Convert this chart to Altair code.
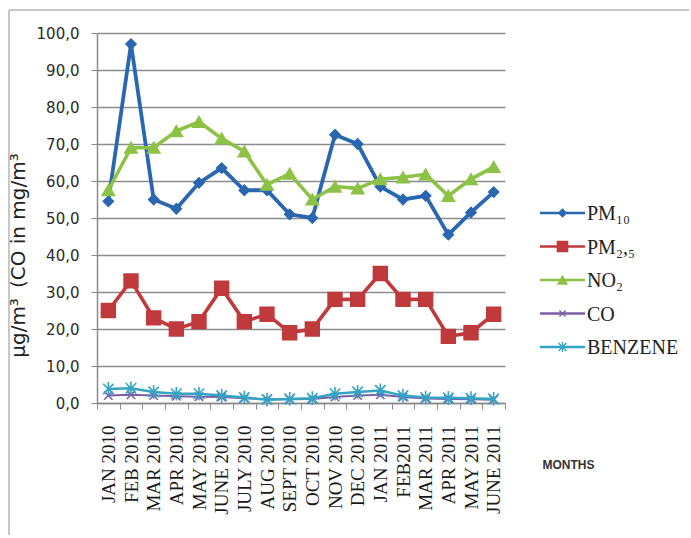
import altair as alt
import pandas as pd

# Monthly pollutant concentrations, Jan 2010 - June 2011
months = ["JAN 2010", "FEB 2010", "MAR 2010", "APR 2010", "MAY 2010", "JUNE 2010",
          "JULY 2010", "AUG 2010", "SEPT 2010", "OCT 2010", "NOV 2010", "DEC 2010",
          "JAN 2011", "FEB2011", "MAR 2011", "APR 2011", "MAY 2011", "JUNE 2011"]

pm10 = [54.5, 97.0, 55.0, 52.5, 59.5, 63.5, 57.5, 57.5, 51.0, 50.0, 72.5, 70.0,
        58.5, 55.0, 56.0, 45.5, 51.5, 57.0]
pm25 = [25.0, 33.0, 23.0, 20.0, 22.0, 31.0, 22.0, 24.0, 19.0, 20.0, 28.0, 28.0,
        35.0, 28.0, 28.0, 18.0, 19.0, 24.0]
no2 = [57.5, 69.0, 69.0, 73.5, 76.0, 71.5, 68.0, 59.0, 62.0, 55.0, 58.5, 58.0,
       60.5, 61.0, 61.8, 56.0, 60.5, 63.8]
co = [2.0, 2.2, 2.0, 1.8, 1.7, 1.6, 1.3, 1.0, 1.0, 1.1, 1.6, 2.0,
      2.2, 1.6, 1.2, 1.1, 1.0, 0.9]
benzene = [3.8, 4.0, 3.0, 2.5, 2.5, 2.0, 1.5, 0.9, 1.1, 1.3, 2.5, 3.0,
           3.4, 2.0, 1.5, 1.4, 1.3, 1.1]

series_keys = ["PM10", "PM2.5", "NO2", "CO", "BENZENE"]
series_labels = ["PM\u2081\u2080", "PM\u2082,\u2085", "NO\u2082", "CO", "BENZENE"]
series_values = [pm10, pm25, no2, co, benzene]
series_colors = ["#2a67b1", "#c0393b", "#8cc346", "#7b5fa6", "#33a5c4"]

# marker shapes: diamond, square, triangle, x-cross, asterisk
X_PATH = "M-1,-1L1,1M-1,1L1,-1"
STAR_PATH = "M-1,-1L1,1M-1,1L1,-1M0,-1.3L0,1.3"
series_shapes = ["diamond", "square", "triangle-up", X_PATH, STAR_PATH]
series_sizes = [100, 190, 150, 70, 110]
series_widths = [3.8, 3.6, 3.6, 2.0, 2.5]

rows = []
for key, vals in zip(series_keys, series_values):
    for m, v in zip(months, vals):
        rows.append({"month": m, "series": key, "value": v})
df = pd.DataFrame(rows)

x_enc = alt.X(
    "month:N",
    sort=months,
    bandPosition=0.5,
    scale=alt.Scale(type="band", paddingInner=0, paddingOuter=0),
    axis=alt.Axis(
        title="MONTHS",
        titleFont="Liberation Sans",
        titleFontSize=12,
        titleFontWeight="bold",
        titleColor="#333333",
        titleX=471,
        titleY=56,
        titleAngle=0,
        labelAngle=-90,
        labelAlign="right",
        labelBaseline="middle",
        labelFont="Liberation Serif",
        labelFontSize=19,
        labelColor="#1a1a1a",
        labelPadding=16,
        tickBand="extent",
        ticks=True,
        tickSize=6,
        tickColor="#8a8a8a",
        domainColor="#8a8a8a",
        domainWidth=1.5,
        grid=False,
    ),
)

y_enc = alt.Y(
    "value:Q",
    scale=alt.Scale(domain=[0, 100], nice=False),
    axis=alt.Axis(
        values=list(range(0, 101, 10)),
        labelExpr="replace(format(datum.value, '.1f'), '.', ',')",
        labelFont="DejaVu Sans",
        labelFontSize=15,
        labelColor="#2a2a2a",
        labelPadding=12,
        tickSize=6,
        tickColor="#8a8a8a",
        domainColor="#8a8a8a",
        domainWidth=1.5,
        grid=True,
        gridColor="#8c8c8c",
        gridWidth=1.5,
        title="\u00b5g/m\u00b3\u2002(CO in mg/m\u00b3",
        titleFont="DejaVu Sans",
        titleFontSize=20,
        titleFontWeight="normal",
        titleColor="#222222",
        titleX=-69,
        titleY=222,
    ),
)

layers = []
for key, col, shp, sz, sw in zip(series_keys, series_colors, series_shapes,
                                 series_sizes, series_widths):
    sub = df[df["series"] == key]
    base = alt.Chart(sub)
    line = base.mark_line(color=col, strokeWidth=sw).encode(x=x_enc, y=y_enc)
    pts = base.mark_point(
        shape=shp, size=sz, filled=True, fill=col, stroke=col,
        strokeWidth=1.6, opacity=1,
    ).encode(x=x_enc, y=y_enc)
    layers += [line, pts]

# thin picture frame along the top and left edges
frame_top = alt.Chart(pd.DataFrame({"k": [0]})).mark_rule(
    color="#b5b5b5", strokeWidth=1.5
).encode(x=alt.value(-88), x2=alt.value(592), y=alt.value(-23))
frame_left = alt.Chart(pd.DataFrame({"k": [0]})).mark_rule(
    color="#b5b5b5", strokeWidth=1.5
).encode(x=alt.value(-88), y=alt.value(-23), y2=alt.value(502))

main = alt.layer(frame_top, frame_left, *layers).properties(width=408, height=370)

# legend panel: sample line, marker and label per series
leg = pd.DataFrame({
    "series": series_keys,
    "label": series_labels,
    "x0": [0.0] * 5,
    "x1": [1.0] * 5,
    "xm": [0.5] * 5,
})
lx = alt.Scale(domain=[0, 1], range=[5, 50])
ly = alt.Scale(type="point", domain=series_keys, range=[180, 314], padding=0)
col_scale = alt.Scale(domain=series_keys, range=series_colors)

leg_base = alt.Chart(leg)
leg_line = leg_base.mark_rule(strokeWidth=2.5).encode(
    x=alt.X("x0:Q", scale=lx, axis=None),
    x2="x1:Q",
    y=alt.Y("series:N", scale=ly, axis=None),
    color=alt.Color("series:N", scale=col_scale, legend=None),
)
leg_pts = []
for key, col, shp, sz in zip(series_keys, series_colors, series_shapes, series_sizes):
    leg_pts.append(
        alt.Chart(leg[leg["series"] == key]).mark_point(
            shape=shp, size=sz * 0.55, filled=True, fill=col, stroke=col,
            strokeWidth=1.4, opacity=1,
        ).encode(
            x=alt.X("xm:Q", scale=lx, axis=None),
            y=alt.Y("series:N", scale=ly, axis=None),
        )
    )
leg_text = leg_base.mark_text(
    align="left", baseline="middle", dx=2, dy=1,
    font="Liberation Serif", fontSize=20, color="#222222",
).encode(
    x=alt.X("x1:Q", scale=lx, axis=None),
    y=alt.Y("series:N", scale=ly, axis=None),
    text="label:N",
)
legend_panel = alt.layer(leg_line, *leg_pts, leg_text).properties(width=140, height=370)

chart = alt.hconcat(main, legend_panel, spacing=30, bounds="flush").properties(
    padding={"left": 8, "top": 9, "right": 0, "bottom": 0},
    background="#ffffff",
).configure_view(stroke=None)

chart.save("out.html", embed_options={"renderer": "svg", "actions": False})
